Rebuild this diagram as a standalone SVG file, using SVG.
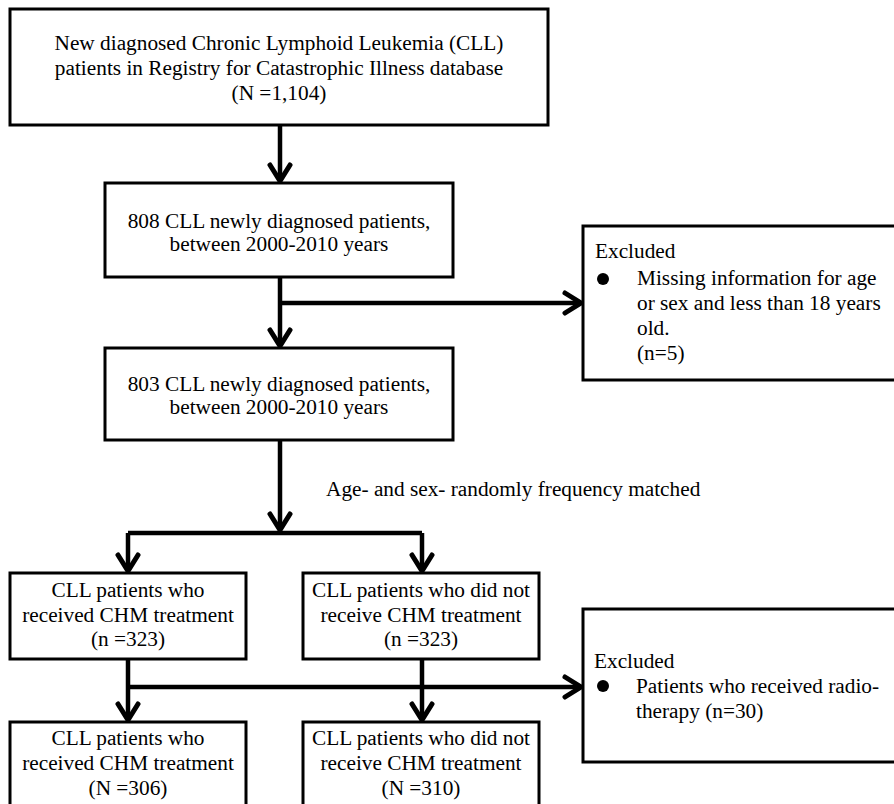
<svg xmlns="http://www.w3.org/2000/svg" width="894" height="804" viewBox="0 0 894 804">
<style>
.box{fill:#fff;stroke:#000;stroke-width:3}
.t{font-family:"Liberation Serif","Times New Roman",serif;font-size:21.3px;fill:#000}
.c{text-anchor:middle}
.ln{fill:none;stroke:#000;stroke-width:4.5;marker-end:url(#chev)}
.pl{fill:none;stroke:#000;stroke-width:4.5}
</style>
<defs>
<marker id="chev" markerUnits="userSpaceOnUse" viewBox="-22 -14 26 28" markerWidth="26" markerHeight="28" refX="-2" refY="0" orient="auto" overflow="visible">
<path d="M-16,-10 L0,0 L-16,10" fill="none" stroke="#000" stroke-width="5" stroke-linecap="round" stroke-linejoin="miter"/>
</marker>
</defs>
<rect width="894" height="804" fill="#fff"/>
<g id="connectors">
<path class="ln" d="M280,126 V179"/>
<path class="ln" d="M280,277 V344"/>
<path class="ln" d="M280,303 H579"/>
<path class="ln" d="M280,440 V528"/>
<path class="pl" d="M128,533 H422"/>
<path class="ln" d="M128,533 V569"/>
<path class="ln" d="M422,533 V569"/>
<path class="ln" d="M128,659 V718"/>
<path class="ln" d="M422,659 V718"/>
<path class="ln" d="M128,687 H579"/>
<text class="t" x="326" y="496">Age- and sex- randomly frequency matched</text>
</g>
<g id="n1">
<rect class="box" x="10" y="9" width="538" height="116"/>
<text class="t c" x="279" y="50">New diagnosed Chronic Lymphoid Leukemia (CLL)</text>
<text class="t c" x="279" y="75">patients in Registry for Catastrophic Illness database</text>
<text class="t c" x="279" y="100">(N =1,104)</text>
</g>
<g id="n2">
<rect class="box" x="105" y="183" width="348" height="94"/>
<text class="t c" x="279" y="228">808 CLL newly diagnosed patients,</text>
<text class="t c" x="279" y="251">between 2000-2010 years</text>
</g>
<g id="ex1">
<rect class="box" x="583" y="226" width="320" height="154"/>
<text class="t" x="595" y="258">Excluded</text>
<circle cx="603" cy="279" r="6" fill="#000"/>
<text class="t" x="637" y="285">Missing information for age</text>
<text class="t" x="637" y="310">or sex and less than 18 years</text>
<text class="t" x="637" y="335">old.</text>
<text class="t" x="637" y="360">(n=5)</text>
</g>
<g id="n3">
<rect class="box" x="105" y="348" width="348" height="92"/>
<text class="t c" x="279" y="391">803 CLL newly diagnosed patients,</text>
<text class="t c" x="279" y="414">between 2000-2010 years</text>
</g>
<g id="n4">
<rect class="box" x="10" y="573" width="236" height="86"/>
<text class="t c" x="128" y="597">CLL patients who</text>
<text class="t c" x="128" y="621.5">received CHM treatment</text>
<text class="t c" x="128" y="646">(n =323)</text>
</g>
<g id="n5">
<rect class="box" x="303" y="573" width="236" height="86"/>
<text class="t c" x="421" y="597">CLL patients who did not</text>
<text class="t c" x="421" y="621.5">receive CHM treatment</text>
<text class="t c" x="421" y="646">(n =323)</text>
</g>
<g id="ex2">
<rect class="box" x="583" y="609" width="320" height="153"/>
<text class="t" x="594" y="668">Excluded</text>
<circle cx="603" cy="686" r="6" fill="#000"/>
<text class="t" x="636" y="693">Patients who received radio-</text>
<text class="t" x="636" y="718">therapy (n=30)</text>
</g>
<g id="n6">
<rect class="box" x="10" y="722" width="236" height="100"/>
<text class="t c" x="128" y="745">CLL patients who</text>
<text class="t c" x="128" y="770">received CHM treatment</text>
<text class="t c" x="128" y="795">(N =306)</text>
</g>
<g id="n7">
<rect class="box" x="303" y="722" width="236" height="100"/>
<text class="t c" x="421" y="745">CLL patients who did not</text>
<text class="t c" x="421" y="770">receive CHM treatment</text>
<text class="t c" x="421" y="795">(N =310)</text>
</g>
</svg>
